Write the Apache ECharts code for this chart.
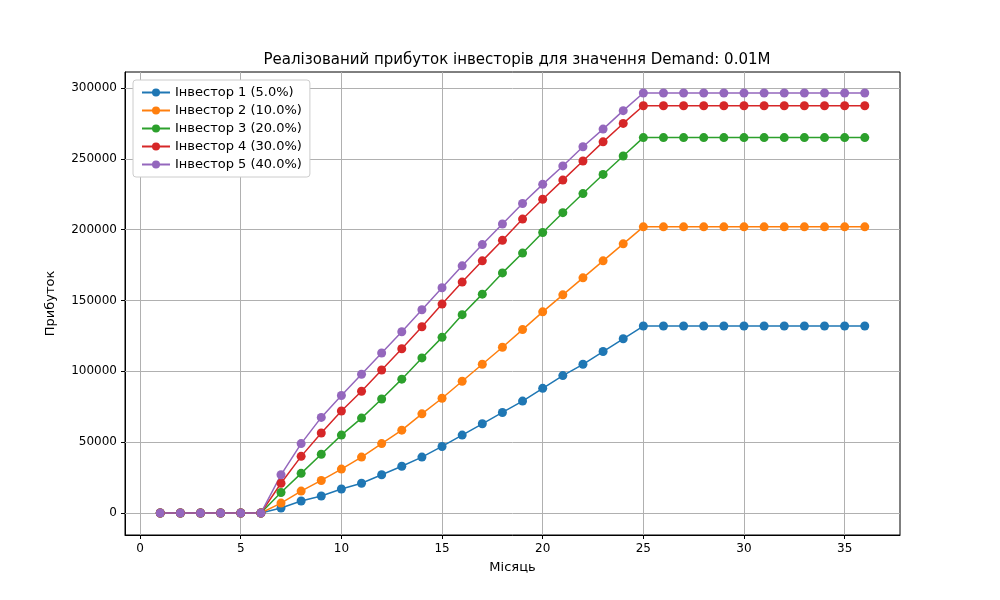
<!DOCTYPE html>
<html><head><meta charset="utf-8">
<script src="https://cdn.jsdelivr.net/npm/echarts@6/dist/echarts.min.js"></script>
<style>html,body{margin:0;background:#fff}#main{width:1000px;height:600px}</style>
</head><body><div id="main"></div>
<script>
var months = [];
for (var m = 1; m <= 36; m++) months.push(m);
var names = ['Інвестор 1 (5.0%)','Інвестор 2 (10.0%)','Інвестор 3 (20.0%)','Інвестор 4 (30.0%)','Інвестор 5 (40.0%)'];
var colors = ['#1f77b4','#ff7f0e','#2ca02c','#d62728','#9467bd'];
var zeros = [0,0,0,0,0,0];
function flat(v){ var a=[]; for(var i=0;i<12;i++) a.push(v); return a; }
var inv1 = zeros.concat([3500,8500,12000,17000,21000,27000,33000,39500,47000,55000,63000,71000,79000,88000,97000,105000,114000,123000], flat(132000));
var inv2 = zeros.concat([7000,15500,23000,31000,39500,49000,58500,70000,81000,93000,105000,117000,129500,142000,154000,166000,178000,190000], flat(202000));
var inv3 = zeros.concat([14500,28000,41500,55000,67000,80500,94500,109500,124000,140000,154500,169500,183500,198000,212000,225500,239000,252000], flat(265000));
var inv4 = zeros.concat([21000,40000,56500,72000,86000,101000,116000,131500,147500,163000,178000,192500,207500,221500,235000,248500,262000,275000], flat(287500));
var inv5 = zeros.concat([27000,49000,67500,83000,98000,113000,128000,143500,159000,174500,189500,204000,218500,232000,245000,258500,271000,284000], flat(296500));
var xTicks = [0,5,10,15,20,25,30,35];
var yTicks = [0,50000,100000,150000,200000,250000,300000];
var all = [inv1,inv2,inv3,inv4,inv5];

var gridLines = xTicks.map(function(v){ return {xAxis: v}; }).concat(yTicks.map(function(v){ return {yAxis: v}; }));

var chart = echarts.init(document.getElementById('main'));
var font = 'DejaVu Sans';
var series = all.map(function(d, i){
  return {name: names[i], type: 'line', data: months.map(function(m, j){ return [m, d[j]]; }),
    symbol: 'circle', symbolSize: 9, lineStyle: {width: 1.5, color: colors[i]},
    itemStyle: {color: colors[i]}, z: 3};
});
series[0].markLine = {silent: true, symbol: 'none', label: {show: false}, z: 1,
  lineStyle: {color: '#b0b0b0', type: 'solid', width: 1}, data: gridLines};
chart.setOption({
  animation: false,
  textStyle: {fontFamily: font},
  title: {text: 'Реалізований прибуток інвесторів для значення Demand: 0.01M', left: 512, top: 48, textAlign: 'center',
    textStyle: {fontFamily: font, fontSize: 15, fontWeight: 'normal', color: '#000'}},
  color: colors,
  legend: {orient: 'vertical', left: 133, top: 80, padding: [6,8], itemGap: 5, itemWidth: 28, itemHeight: 10,
    backgroundColor: '#fff', borderColor: '#ccc', borderWidth: 1, borderRadius: 3,
    textStyle: {fontFamily: font, fontSize: 13, color: '#000'}, data: names},
  grid: {left: 125, right: 100, top: 72, bottom: 65, show: true, borderColor: '#000', borderWidth: 1, backgroundColor: 'transparent'},
  xAxis: {type: 'value', min: -0.75, max: 37.75, name: 'Місяць', nameLocation: 'middle', nameGap: 26,
    nameTextStyle: {fontFamily: font, fontSize: 13, color: '#000'},
    axisLine: {onZero: false, lineStyle: {color: '#000'}},
    axisTick: {customValues: xTicks, length: 4, lineStyle: {color: '#000'}},
    axisLabel: {customValues: xTicks, color: '#000', fontSize: 12, fontFamily: font},
    splitLine: {show: false}},
  yAxis: {type: 'value', min: -15500, max: 311300, name: 'Прибуток', nameLocation: 'middle', nameGap: 68, nameRotate: 90,
    nameTextStyle: {fontFamily: font, fontSize: 13, color: '#000'},
    axisLine: {show: true, onZero: false, lineStyle: {color: '#000'}},
    axisTick: {show: true, customValues: yTicks, length: 4, lineStyle: {color: '#000'}},
    axisLabel: {customValues: yTicks, color: '#000', fontSize: 12, fontFamily: font,
      formatter: function(v){ return String(v); }},
    splitLine: {show: false}},
  series: series
});
</script></body></html>
